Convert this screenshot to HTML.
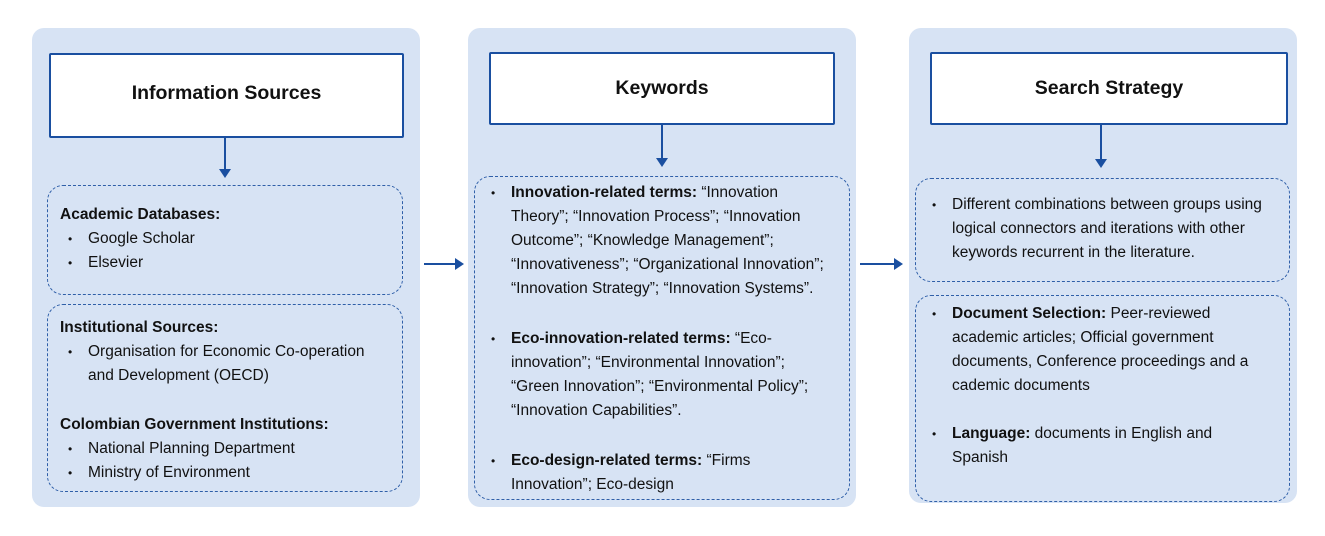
<!DOCTYPE html>
<html><head><style>
body{margin:0;width:1325px;height:536px;background:#fff;position:relative;font-family:"Liberation Sans",Arial,sans-serif;color:#111;overflow:hidden}
.p{position:absolute;background:#d7e3f4;border-radius:12px}
.h{position:absolute;background:#fff;border:2px solid #1a4fa0;border-radius:2px;display:flex;align-items:center;justify-content:center;font-weight:bold;font-size:19.5px}
.d{position:absolute;border:1.5px dashed #2f5fa8;border-radius:16px;box-sizing:border-box;font-size:15.5px;line-height:24px}
.a{position:absolute;background:#1a4fa0}
ul{margin:0;padding-left:28px}
li{list-style:none;position:relative;white-space:nowrap}
li:before{content:"•";position:absolute;left:-20px;font-size:12px}
b{font-weight:bold}
p{margin:0}
</style></head><body>
<div class="p" style="left:32px;top:28px;width:388px;height:479px"></div>
<div class="p" style="left:468px;top:28px;width:388px;height:479px"></div>
<div class="p" style="left:909px;top:28px;width:388px;height:475px"></div>

<div class="h" style="left:49px;top:53px;width:351px;height:77px;padding-bottom:4px">Information Sources</div>
<div class="h" style="left:489px;top:52px;width:342px;height:69px">Keywords</div>
<div class="h" style="left:930px;top:52px;width:354px;height:69px">Search Strategy</div>

<div class="a" style="left:224px;top:137px;width:2px;height:33px"></div>
<div style="position:absolute;left:219px;top:169px;border-left:6px solid transparent;border-right:6px solid transparent;border-top:9px solid #1a4fa0"></div>
<div class="a" style="left:661px;top:124px;width:2px;height:35px"></div>
<div style="position:absolute;left:656px;top:158px;border-left:6px solid transparent;border-right:6px solid transparent;border-top:9px solid #1a4fa0"></div>
<div class="a" style="left:1100px;top:124px;width:2px;height:36px"></div>
<div style="position:absolute;left:1095px;top:159px;border-left:6px solid transparent;border-right:6px solid transparent;border-top:9px solid #1a4fa0"></div>
<div class="a" style="left:424px;top:263px;width:32px;height:2px"></div>
<div style="position:absolute;left:455px;top:258px;border-top:6px solid transparent;border-bottom:6px solid transparent;border-left:9px solid #1a4fa0"></div>
<div class="a" style="left:860px;top:263px;width:35px;height:2px"></div>
<div style="position:absolute;left:894px;top:258px;border-top:6px solid transparent;border-bottom:6px solid transparent;border-left:9px solid #1a4fa0"></div>

<div class="d" style="left:47px;top:185px;width:356px;height:110px;padding:17px 0 0 12px">
<p><b>Academic Databases:</b></p>
<ul><li>Google Scholar</li><li>Elsevier</li></ul>
</div>
<div class="d" style="left:47px;top:304px;width:356px;height:188px;padding:11px 0 0 12px">
<p><b>Institutional Sources:</b></p>
<ul><li>Organisation for Economic Co-operation<br>and Development (OECD)</li></ul>
<p style="margin-top:25px"><b>Colombian Government Institutions:</b></p>
<ul><li>National Planning Department</li><li>Ministry of Environment</li></ul>
</div>

<div class="d" style="left:474px;top:176px;width:376px;height:324px;padding:4px 8px 0 8px">
<ul>
<li><b>Innovation-related terms:</b> “Innovation<br>Theory”; “Innovation Process”; “Innovation<br>Outcome”; “Knowledge Management”;<br>“Innovativeness”; “Organizational Innovation”;<br>“Innovation Strategy”; “Innovation Systems”.</li>
<li style="margin-top:26px"><b>Eco-innovation-related terms:</b> “Eco-<br>innovation”; “Environmental Innovation”;<br>“Green Innovation”; “Environmental Policy”;<br>“Innovation Capabilities”.</li>
<li style="margin-top:26px"><b>Eco-design-related terms:</b> “Firms<br>Innovation”; Eco-design</li>
</ul>
</div>

<div class="d" style="left:915px;top:178px;width:375px;height:104px;padding:14px 6px 0 8px">
<ul><li>Different combinations between groups using<br>logical connectors and iterations with other<br>keywords recurrent in the literature.</li></ul>
</div>
<div class="d" style="left:915px;top:295px;width:375px;height:207px;padding:6px 10px 0 8px">
<ul><li><b>Document Selection:</b> Peer-reviewed<br>academic articles; Official government<br>documents, Conference proceedings and a<br>cademic documents</li>
<li style="margin-top:24px"><b>Language:</b> documents in English and<br>Spanish</li></ul>
</div>
</body></html>
